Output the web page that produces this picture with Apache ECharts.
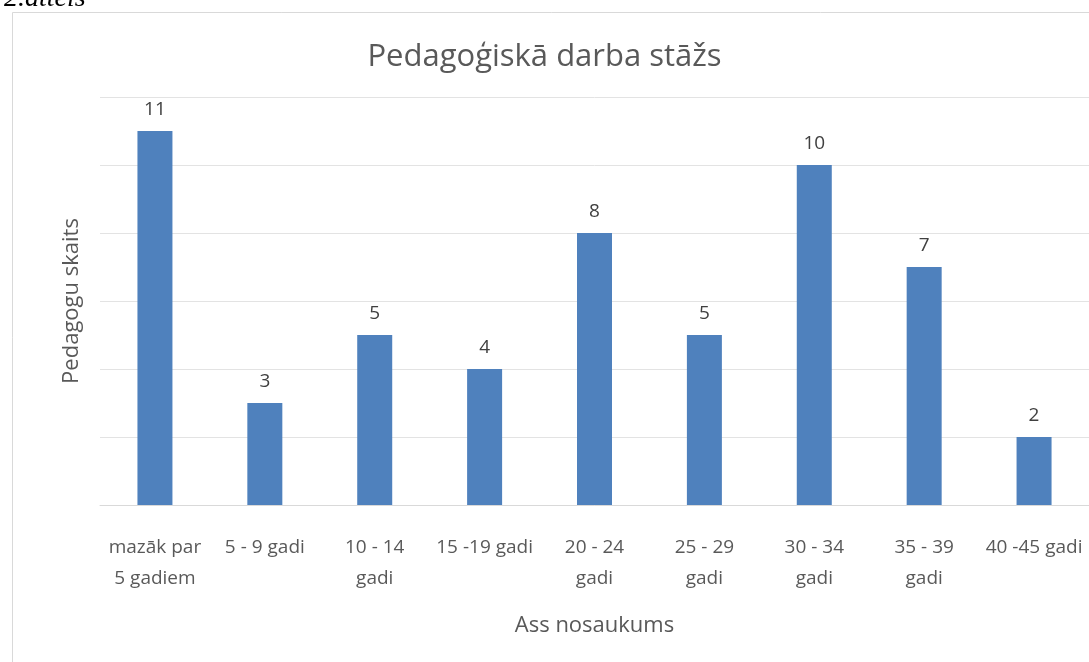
<!DOCTYPE html>
<html lang="lv">
<head>
    <meta charset="UTF-8">
    <title>Pedagoģiskā darba stāžs</title>
    <script src="https://cdn.jsdelivr.net/npm/echarts@6/dist/echarts.min.js"></script>
    <style>
        html, body { margin: 0; padding: 0; background: #fff; }
        #chart { width: 1089px; height: 662px; }
    </style>
</head>
<body>
<div id="chart"></div>
<script>
    // kategorijas un vērtības
    var categories = ['mazāk par\n5 gadiem', '5 - 9 gadi', '10 - 14\ngadi', '15 -19 gadi',
        '20 - 24\ngadi', '25 - 29\ngadi', '30 - 34\ngadi', '35 - 39\ngadi', '40 -45 gadi']
    var teachers = [11, 3, 5, 4, 8, 5, 10, 7, 2]

    var font = '"Open Sans", "Liberation Sans", sans-serif'
    var mCharts = echarts.init(document.getElementById('chart'))
    var option = {
        backgroundColor: '#fff',
        animation: false,
        title: {
            text: 'Pedagoģiskā darba stāžs',
            left: 'center',
            top: 37,
            textStyle: { color: '#595959', fontSize: 31, fontWeight: 'normal', fontFamily: font }
        },
        graphic: [{
            type: 'rect',
            shape: { x: 12.5, y: 12.5, width: 1100, height: 700 },
            style: { fill: 'none', stroke: '#d9d9d9', lineWidth: 1 },
            silent: true
        }, {
            type: 'text',
            left: 4,
            top: -15,
            style: {
                text: '2.attēls',
                font: 'italic 28px "Liberation Serif", serif',
                fill: '#000'
            }
        }],
        grid: { left: 100, right: -1, top: 97, bottom: 157 },
        xAxis: {
            type: 'category',
            data: categories,
            name: 'Ass nosaukums',
            nameLocation: 'middle',
            nameGap: 110,
            nameTextStyle: { color: '#595959', fontSize: 22, fontFamily: font },
            axisLine: { lineStyle: { color: '#d9d9d9', width: 1 } },
            axisTick: { show: false },
            axisLabel: {
                interval: 0,
                margin: 27,
                color: '#595959',
                fontSize: 19,
                lineHeight: 31,
                fontFamily: font
            }
        },
        yAxis: {
            type: 'value',
            min: 0,
            max: 12,
            interval: 2,
            name: 'Pedagogu skaits',
            nameLocation: 'middle',
            nameGap: 17,
            nameTextStyle: { color: '#595959', fontSize: 22, fontFamily: font },
            axisLabel: { show: false },
            axisLine: { show: false },
            axisTick: { show: false },
            splitLine: { lineStyle: { color: '#e3e3e3', width: 1 } }
        },
        series: [{
            type: 'bar',
            data: teachers,
            barWidth: 35,
            itemStyle: { color: '#4f81bd' },
            label: {
                show: true,
                position: 'top',
                distance: 12,
                color: '#404040',
                fontSize: 19,
                fontFamily: font
            }
        }]
    }
    mCharts.setOption(option)
</script>
</body>
</html>
